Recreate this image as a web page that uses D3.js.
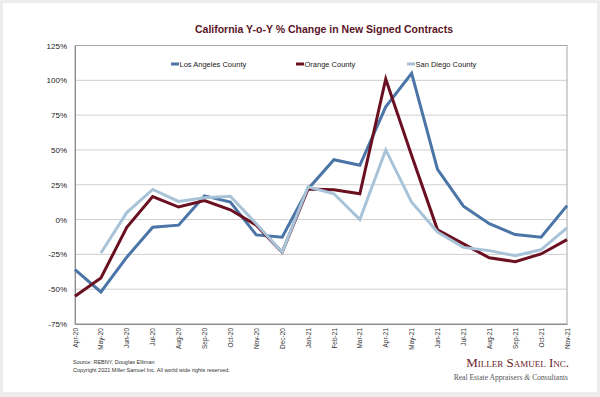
<!DOCTYPE html>
<html>
<head>
<meta charset="utf-8">
<script src="https://cdn.jsdelivr.net/npm/d3@7"></script>
<style>
  body { margin: 0; background: #ededed; }
  svg { display: block; font-family: "Liberation Sans", Arial, sans-serif; }
</style>
</head>
<body>
<svg id="chart" width="600" height="397"></svg>
<script>
// months on the x axis
var months = ["Apr-20","May-20","Jun-20","Jul-20","Aug-20","Sep-20","Oct-20","Nov-20","Dec-20",
  "Jan-21","Feb-21","Mar-21","Apr-21","May-21","Jun-21","Jul-21","Aug-21","Sep-21","Oct-21","Nov-21"];

// y-o-y % change
var losAngeles = [-36, -52, -27, -5.5, -4, 17, 12.5, -11, -12.7, 22, 43, 39, 81, 105, 36, 9.6, -3, -10.8, -12.7, 10];
var orange = [-55, -42, -5.5, 16.5, 9, 13.7, 7, -4, -23.5, 22, 21.4, 18.5, 101, 46, -7.4, -17.5, -27.5, -30.2, -24.7, -14.4];
var sanDiego = [null, -24, 5, 21.6, 13, 15.6, 16.8, -3, -23.5, 23.5, 18.5, 0, 50, 12.5, -9, -20, -22.3, -26, -21.6, -6];

var yTicks = [-75, -50, -25, 0, 25, 50, 75, 100, 125];

var series = [
  { name: "Los Angeles County", values: losAngeles, color: "#4a75a6", lx: 171 },
  { name: "Orange County", values: orange, color: "#6a1020", lx: 296 },
  { name: "San Diego County", values: sanDiego, color: "#a8c3d8", lx: 407 }
];

var svg = d3.select("#chart");

// card
svg.append("rect").attr("width", 600).attr("height", 397).attr("fill", "#ededed");
svg.append("rect").attr("x", 3).attr("y", 3).attr("width", 594).attr("height", 389).attr("fill", "#fff");

var x = d3.scalePoint().domain(months).range([75, 567]);
var y = d3.scaleLinear().domain([-75, 125]).range([324, 45.5]);

// gridlines
svg.append("g")
  .selectAll("line")
  .data(yTicks)
  .enter().append("line")
  .attr("x1", 75).attr("x2", 567)
  .attr("y1", d => y(d)).attr("y2", d => y(d))
  .attr("stroke", "#cfcfcf").attr("stroke-width", 1);

// plot frame
svg.append("rect")
  .attr("x", 75).attr("y", y(125))
  .attr("width", 492).attr("height", y(-75) - y(125))
  .attr("fill", "none").attr("stroke", "#a6a6a6").attr("stroke-width", 1);

// y axis
var yAxis = svg.append("g")
  .attr("transform", "translate(75,0)")
  .call(d3.axisLeft(y).tickValues(yTicks).tickSize(0).tickPadding(8).tickFormat(d => d + "%"));
yAxis.select(".domain").attr("stroke", "#8c8c8c");
yAxis.selectAll("text").attr("font-size", 8).attr("fill", "#222").attr("font-family", "Liberation Sans, Arial");

// x axis
var xAxis = svg.append("g")
  .attr("transform", "translate(0," + y(-75) + ")")
  .call(d3.axisBottom(x).tickSize(0).tickPadding(0));
xAxis.select(".domain").attr("stroke", "#8c8c8c");
xAxis.selectAll("text")
  .attr("font-size", 6.5).attr("fill", "#333").attr("font-family", "Liberation Sans, Arial")
  .attr("text-anchor", "end")
  .attr("dy", "0.32em")
  .attr("transform", "translate(0,4) rotate(-90)");

// lines
var line = d3.line()
  .defined(d => d.v != null)
  .x(d => x(d.m))
  .y(d => y(d.v));

svg.append("g")
  .selectAll("path")
  .data(series)
  .enter().append("path")
  .attr("d", s => line(s.values.map((v, i) => ({ m: months[i], v: v }))))
  .attr("fill", "none")
  .attr("stroke", s => s.color)
  .attr("stroke-width", 3)
  .attr("stroke-linejoin", "miter");

// legend
var legend = svg.append("g")
  .selectAll("g")
  .data(series)
  .enter().append("g")
  .attr("transform", s => "translate(" + s.lx + ",64)");
legend.append("line")
  .attr("x1", 0).attr("x2", 8)
  .attr("stroke", s => s.color).attr("stroke-width", 3);
legend.append("text")
  .attr("x", 8.5).attr("dy", "0.35em")
  .attr("font-size", 7.5).attr("fill", "#222")
  .text(s => s.name);

// title
svg.append("text")
  .attr("x", 324).attr("y", 33)
  .attr("text-anchor", "middle")
  .attr("font-size", 10.5).attr("font-weight", "bold")
  .attr("fill", "#5b1527")
  .text("California Y-o-Y % Change in New Signed Contracts");

// footer
svg.append("text")
  .attr("x", 73).attr("y", 364)
  .attr("font-size", 5.5).attr("fill", "#333")
  .text("Source: REBNY, Douglas Elliman");
svg.append("text")
  .attr("x", 73).attr("y", 372)
  .attr("font-size", 5.5).attr("fill", "#333")
  .text("Copyright 2021 Miller Samuel Inc.  All world wide rights reserved.");

svg.append("text")
  .attr("x", 569).attr("y", 367)
  .attr("text-anchor", "end")
  .attr("font-family", "Liberation Serif, Times New Roman, serif")
  .attr("font-size", 13).attr("fill", "#6b1a2a")
  .style("font-variant", "small-caps")
  .text("Miller Samuel Inc.");
var tag = svg.append("text")
  .attr("x", 568).attr("y", 380)
  .attr("text-anchor", "end")
  .attr("font-family", "Liberation Serif, Times New Roman, serif")
  .attr("font-size", 7.6).attr("fill", "#555");
tag.append("tspan").text("Real Estate Appraisers ");
tag.append("tspan").attr("font-style", "italic").text("&");
tag.append("tspan").text(" Consultants");
</script>
</body>
</html>
